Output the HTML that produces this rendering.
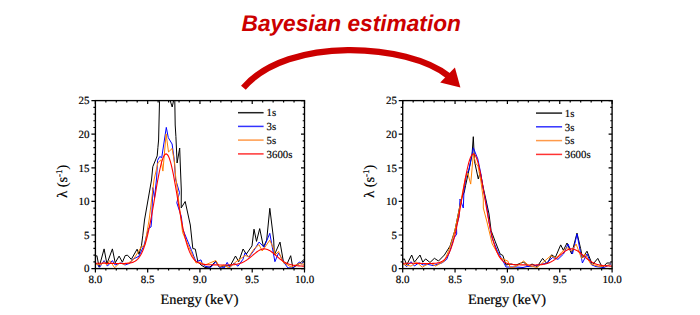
<!DOCTYPE html>
<html><head><meta charset="utf-8"><style>
html,body{margin:0;padding:0;background:#fff;}
text{text-rendering:geometricPrecision;}
body{width:700px;height:315px;overflow:hidden;position:relative;}
svg{position:absolute;left:0;top:0;}
.tl{font-family:"Liberation Serif",serif;font-size:11px;fill:#000;stroke:#000;stroke-width:0.2px;}
.at{font-family:"Liberation Serif",serif;font-size:14.3px;fill:#000;stroke:#000;stroke-width:0.2px;}
.lg{font-family:"Liberation Serif",serif;font-size:10.8px;fill:#000;stroke:#000;stroke-width:0.15px;}
.ti{font-family:"Liberation Sans",sans-serif;font-size:22.7px;font-weight:bold;font-style:italic;fill:#cc0000;}
</style></head><body>
<svg width="700" height="315" viewBox="0 0 700 315">
<text x="241.5" y="30.9" class="ti">Bayesian estimation</text>
<path d="M243.4,87.7 C288.5,35.4 408,43.5 448.5,76" fill="none" stroke="#cc0000" stroke-width="6.3"/>
<polygon points="460.4,87.6 454.9,67.6 440.2,82.4" fill="#cc0000"/>
<clipPath id="cl"><rect x="95.4" y="100.6" width="209.1" height="168.00000000000003"/></clipPath>
<g clip-path="url(#cl)" fill="none" stroke-width="1.0" stroke-linejoin="round">
<path d="M95.0,257.2 L96.9,255.6 L99.1,267.2 L104.1,248.9 L106.9,263.9 L112.4,248.9 L115.2,262.8 L119.1,256.1 L122.4,262.2 L125.2,255.6 L127.5,255.2 L131.3,259.4 L137.1,249.2 L139.0,254.3 L141.5,245.4 L142.8,235.2 L144.5,220.0 L151.5,180.0 L152.8,166.7 L157.2,155.9 L157.9,147.6 L158.6,140.0 L159.5,101.3 L162.0,85.0 L168.0,85.0 L170.3,101.0 L172.2,107.0 L173.5,101.0 L174.2,97.0 L174.8,101.3 L175.2,125.0 L175.9,136.4 L177.1,163.0 L179.7,148.0 L180.3,165.0 L181.3,190.0 L181.2,207.9 L185.2,201.5 L190.3,225.0 L192.8,248.5 L195.3,249.1 L197.9,261.8 L201.0,265.0 L205.0,267.5 L210.0,267.0 L215.8,261.1 L219.0,266.8 L224.0,266.0 L230.4,265.6 L235.5,256.0 L238.7,261.7 L243.1,249.0 L246.3,254.1 L252.0,245.9 L254.0,229.2 L256.5,241.4 L259.7,228.6 L263.5,247.1 L266.7,240.0 L269.8,208.3 L273.7,240.0 L274.3,255.0 L280.0,242.1 L283.6,262.9 L287.0,264.0 L290.7,255.7 L292.9,267.9 L297.0,265.0 L301.4,262.1 L304.0,259.3" stroke="#000"/>
<path d="M95.2,262.2 L99.7,267.2 L104.1,260.6 L107.4,266.1 L112.4,260.6 L115.2,265.0 L121.0,262.8 L125.0,265.0 L129.7,263.3 L132.6,259.4 L139.0,256.2 L144.0,245.4 L148.5,228.3 L151.0,227.0 L151.7,220.0 L152.8,187.6 L154.5,198.0 L156.6,178.0 L157.6,160.3 L159.8,156.5 L161.7,157.8 L166.3,127.4 L168.3,137.7 L172.1,144.0 L174.0,158.0 L174.6,165.0 L175.5,179.0 L179.5,192.6 L176.8,202.8 L181.4,216.7 L182.6,228.8 L191.5,250.4 L196.0,261.8 L201.0,259.9 L202.3,263.7 L205.0,266.2 L210.7,267.5 L215.8,261.7 L219.6,267.5 L222.0,267.0 L224.0,268.0 L227.2,262.4 L229.8,267.5 L234.0,263.0 L238.0,266.2 L243.0,259.2 L245.0,252.9 L248.9,257.3 L254.0,250.3 L259.0,242.1 L264.1,247.1 L269.8,233.3 L274.9,261.7 L278.6,252.9 L283.6,262.0 L287.9,267.9 L292.9,267.9 L299.3,262.1 L301.5,264.0 L304.0,261.0" stroke="#0000ff"/>
<path d="M95.2,263.9 L100.8,265.0 L104.1,261.7 L106.9,265.0 L109.7,260.6 L114.7,267.8 L119.7,262.8 L124.1,264.4 L128.6,262.8 L133.0,260.0 L141.5,246.7 L144.7,245.4 L149.1,220.0 L154.0,180.0 L157.9,162.9 L161.0,159.7 L162.9,171.1 L166.1,133.9 L168.5,152.0 L172.1,148.5 L174.6,163.0 L175.5,175.0 L182.6,232.6 L196.0,263.0 L200.0,262.0 L205.0,265.0 L215.8,260.5 L219.6,266.8 L224.0,265.0 L229.0,268.0 L236.1,261.7 L240.0,259.2 L245.0,255.5 L248.9,256.6 L254.0,249.0 L259.0,244.6 L262.2,251.0 L269.8,240.2 L274.3,250.3 L275.0,255.0 L278.6,251.4 L283.0,262.0 L291.0,267.0 L299.0,263.6 L304.0,264.3" stroke="#ff8000"/>
<path d="M95.4,263.2 L96.4,263.2 L97.4,263.2 L98.4,263.2 L99.4,263.2 L100.4,263.3 L101.4,263.3 L102.4,263.3 L103.4,263.3 L104.4,263.3 L105.4,263.3 L106.4,263.3 L107.4,263.4 L108.4,263.4 L109.4,263.4 L110.4,263.4 L111.4,263.4 L112.4,263.4 L113.4,263.4 L114.4,263.5 L115.4,263.5 L116.4,263.5 L117.4,263.5 L118.4,263.5 L119.4,263.5 L120.4,263.5 L121.4,263.5 L122.4,263.5 L123.4,263.5 L124.4,263.5 L125.4,263.4 L126.4,263.4 L127.4,263.3 L128.4,263.2 L129.4,263.1 L130.4,262.9 L131.4,262.7 L132.4,262.4 L133.4,262.1 L134.4,261.6 L135.4,261.0 L136.4,260.3 L137.4,259.4 L138.4,258.3 L139.4,257.0 L140.4,255.5 L141.4,253.7 L142.4,251.6 L143.4,249.2 L144.4,246.4 L145.4,243.3 L146.4,239.8 L147.4,235.9 L148.4,231.6 L149.4,226.9 L150.4,221.9 L151.4,216.6 L152.4,211.1 L153.4,205.3 L154.4,199.5 L155.4,193.6 L156.4,187.7 L157.4,182.0 L158.4,176.6 L159.4,171.5 L160.4,167.0 L161.4,162.9 L162.4,159.6 L163.4,156.9 L164.4,155.1 L165.4,154.1 L166.4,153.9 L167.4,154.6 L168.4,156.1 L169.4,158.5 L170.4,161.6 L171.4,165.4 L172.4,169.8 L173.4,174.7 L174.4,180.1 L175.4,185.7 L176.4,191.5 L177.4,197.4 L178.4,203.4 L179.4,209.2 L180.4,214.9 L181.4,220.3 L182.4,225.4 L183.4,230.3 L184.4,234.7 L185.4,238.8 L186.4,242.5 L187.4,245.8 L188.4,248.8 L189.4,251.4 L190.4,253.6 L191.4,255.6 L192.4,257.2 L193.4,258.6 L194.4,259.8 L195.4,260.8 L196.4,261.6 L197.4,262.3 L198.4,262.8 L199.4,263.2 L200.4,263.6 L201.4,263.9 L202.4,264.1 L203.4,264.3 L204.4,264.4 L205.4,264.5 L206.4,264.6 L207.4,264.7 L208.4,264.7 L209.4,264.8 L210.4,264.8 L211.4,264.8 L212.4,264.8 L213.4,264.9 L214.4,264.9 L215.4,264.9 L216.4,264.9 L217.4,264.9 L218.4,264.9 L219.4,265.0 L220.4,265.0 L221.4,265.0 L222.4,265.0 L223.4,265.0 L224.4,265.0 L225.4,265.0 L226.4,265.0 L227.4,265.0 L228.4,265.0 L229.4,264.9 L230.4,264.9 L231.4,264.8 L232.4,264.8 L233.4,264.7 L234.4,264.6 L235.4,264.4 L236.4,264.3 L237.4,264.1 L238.4,263.8 L239.4,263.6 L240.4,263.2 L241.4,262.9 L242.4,262.4 L243.4,262.0 L244.4,261.5 L245.4,260.9 L246.4,260.2 L247.4,259.6 L248.4,258.8 L249.4,258.1 L250.4,257.2 L251.4,256.4 L252.4,255.6 L253.4,254.7 L254.4,253.9 L255.4,253.1 L256.4,252.3 L257.4,251.5 L258.4,250.9 L259.4,250.3 L260.4,249.8 L261.4,249.4 L262.4,249.1 L263.4,248.9 L264.4,248.9 L265.4,249.0 L266.4,249.2 L267.4,249.5 L268.4,249.9 L269.4,250.4 L270.4,251.0 L271.4,251.7 L272.4,252.5 L273.4,253.3 L274.4,254.2 L275.4,255.0 L276.4,255.9 L277.4,256.8 L278.4,257.6 L279.4,258.5 L280.4,259.3 L281.4,260.0 L282.4,260.8 L283.4,261.4 L284.4,262.0 L285.4,262.6 L286.4,263.1 L287.4,263.5 L288.4,263.9 L289.4,264.3 L290.4,264.6 L291.4,264.8 L292.4,265.1 L293.4,265.3 L294.4,265.4 L295.4,265.6 L296.4,265.7 L297.4,265.8 L298.4,265.9 L299.4,265.9 L300.4,266.0 L301.4,266.0 L302.4,266.1 L303.4,266.1 L304.4,266.1 L305.4,266.2" stroke="#ff0000" stroke-width="1.1"/>
</g>
<rect x="95.4" y="100.6" width="209.1" height="168.00000000000003" fill="none" stroke="#000" stroke-width="1.35"/>
<path d="M95.40,268.6 v4 M95.40,100.6 v3.5 M105.86,268.6 v2 M105.86,100.6 v1.8 M116.31,268.6 v2 M116.31,100.6 v1.8 M126.77,268.6 v2 M126.77,100.6 v1.8 M137.22,268.6 v2 M137.22,100.6 v1.8 M147.68,268.6 v4 M147.68,100.6 v3.5 M158.13,268.6 v2 M158.13,100.6 v1.8 M168.59,268.6 v2 M168.59,100.6 v1.8 M179.04,268.6 v2 M179.04,100.6 v1.8 M189.50,268.6 v2 M189.50,100.6 v1.8 M199.95,268.6 v4 M199.95,100.6 v3.5 M210.41,268.6 v2 M210.41,100.6 v1.8 M220.86,268.6 v2 M220.86,100.6 v1.8 M231.31,268.6 v2 M231.31,100.6 v1.8 M241.77,268.6 v2 M241.77,100.6 v1.8 M252.22,268.6 v4 M252.22,100.6 v3.5 M262.68,268.6 v2 M262.68,100.6 v1.8 M273.13,268.6 v2 M273.13,100.6 v1.8 M283.59,268.6 v2 M283.59,100.6 v1.8 M294.05,268.6 v2 M294.05,100.6 v1.8 M304.50,268.6 v4 M304.50,100.6 v3.5 M95.4,268.60 h-4 M304.5,268.60 h-3.5 M95.4,261.88 h-2 M304.5,261.88 h-1.8 M95.4,255.16 h-2 M304.5,255.16 h-1.8 M95.4,248.44 h-2 M304.5,248.44 h-1.8 M95.4,241.72 h-2 M304.5,241.72 h-1.8 M95.4,235.00 h-4 M304.5,235.00 h-3.5 M95.4,228.28 h-2 M304.5,228.28 h-1.8 M95.4,221.56 h-2 M304.5,221.56 h-1.8 M95.4,214.84 h-2 M304.5,214.84 h-1.8 M95.4,208.12 h-2 M304.5,208.12 h-1.8 M95.4,201.40 h-4 M304.5,201.40 h-3.5 M95.4,194.68 h-2 M304.5,194.68 h-1.8 M95.4,187.96 h-2 M304.5,187.96 h-1.8 M95.4,181.24 h-2 M304.5,181.24 h-1.8 M95.4,174.52 h-2 M304.5,174.52 h-1.8 M95.4,167.80 h-4 M304.5,167.80 h-3.5 M95.4,161.08 h-2 M304.5,161.08 h-1.8 M95.4,154.36 h-2 M304.5,154.36 h-1.8 M95.4,147.64 h-2 M304.5,147.64 h-1.8 M95.4,140.92 h-2 M304.5,140.92 h-1.8 M95.4,134.20 h-4 M304.5,134.20 h-3.5 M95.4,127.48 h-2 M304.5,127.48 h-1.8 M95.4,120.76 h-2 M304.5,120.76 h-1.8 M95.4,114.04 h-2 M304.5,114.04 h-1.8 M95.4,107.32 h-2 M304.5,107.32 h-1.8 M95.4,100.60 h-4 M304.5,100.60 h-3.5" stroke="#000" stroke-width="1.2" fill="none"/>
<text x="89.60000000000001" y="272.4" text-anchor="end" class="tl">0</text>
<text x="89.60000000000001" y="238.8" text-anchor="end" class="tl">5</text>
<text x="89.60000000000001" y="205.2" text-anchor="end" class="tl">10</text>
<text x="89.60000000000001" y="171.6" text-anchor="end" class="tl">15</text>
<text x="89.60000000000001" y="138.0" text-anchor="end" class="tl">20</text>
<text x="89.60000000000001" y="104.4" text-anchor="end" class="tl">25</text>
<text x="95.4" y="282.8" text-anchor="middle" class="tl">8.0</text>
<text x="147.7" y="282.8" text-anchor="middle" class="tl">8.5</text>
<text x="199.9" y="282.8" text-anchor="middle" class="tl">9.0</text>
<text x="252.2" y="282.8" text-anchor="middle" class="tl">9.5</text>
<text x="304.5" y="282.8" text-anchor="middle" class="tl">10.0</text>
<text x="199.5" y="303.6" text-anchor="middle" class="at">Energy (keV)</text>
<text transform="translate(66.9,181.3) rotate(-90)" text-anchor="middle" class="at">λ (s<tspan dy="-5" font-size="9">-1</tspan><tspan dy="5">)</tspan></text>
<path d="M238,112.7 H263.6" stroke="#222" stroke-width="1.5"/>
<text x="266.6" y="116.4" class="lg">1s</text>
<path d="M238,126.4 H263.6" stroke="#3333ff" stroke-width="1.5"/>
<text x="266.6" y="130.1" class="lg">3s</text>
<path d="M238,140.1 H263.6" stroke="#ff9a4a" stroke-width="1.5"/>
<text x="266.6" y="143.8" class="lg">5s</text>
<path d="M238,153.9 H263.6" stroke="#ff3333" stroke-width="1.5"/>
<text x="266.6" y="157.6" class="lg">3600s</text>
<clipPath id="cr"><rect x="402.7" y="100.6" width="209.40000000000003" height="168.00000000000003"/></clipPath>
<g clip-path="url(#cr)" fill="none" stroke-width="1.0" stroke-linejoin="round">
<path d="M402.3,259.5 L404.4,258.9 L406.7,265.0 L411.7,255.0 L414.4,262.2 L420.0,255.0 L422.8,262.2 L425.6,258.9 L430.0,262.5 L434.4,258.3 L438.5,261.0 L444.4,255.0 L450.0,246.1 L455.0,230.0 L460.0,205.0 L462.0,197.0 L464.3,192.0 L465.6,185.4 L468.5,172.0 L472.0,155.0 L473.3,136.7 L474.5,161.3 L478.3,179.0 L480.2,172.0 L483.3,188.0 L486.0,200.0 L489.0,214.0 L491.1,230.6 L495.0,241.0 L500.2,254.1 L502.8,255.4 L506.0,265.0 L511.0,264.0 L516.0,265.0 L523.6,262.0 L528.1,266.6 L532.0,264.0 L537.2,266.6 L542.6,258.4 L547.1,263.9 L551.7,254.8 L555.3,257.5 L560.7,244.9 L563.4,250.3 L567.0,243.0 L571.6,253.9 L577.0,233.1 L580.6,248.5 L582.5,258.0 L587.0,251.2 L592.4,264.8 L597.8,258.4 L602.3,267.5 L606.9,263.0 L611.0,263.0" stroke="#000"/>
<path d="M402.3,262.5 L406.7,266.7 L411.0,261.7 L414.4,266.0 L419.0,262.8 L423.3,265.0 L428.0,264.4 L433.3,265.6 L442.2,262.8 L446.7,259.4 L450.0,250.6 L454.0,238.0 L456.7,234.0 L456.5,226.0 L459.0,217.0 L460.0,199.0 L463.3,208.0 L464.0,190.0 L466.7,173.3 L468.9,170.0 L473.3,147.8 L477.8,158.9 L480.9,174.0 L483.0,188.0 L486.7,206.0 L489.0,222.0 L492.0,238.0 L497.7,251.6 L504.0,263.0 L506.0,267.0 L511.0,267.0 L516.0,267.0 L523.0,267.5 L527.0,266.5 L532.5,266.6 L537.5,265.0 L542.0,264.0 L546.0,263.5 L552.6,257.5 L558.0,259.3 L563.5,254.0 L568.0,244.0 L572.5,254.0 L577.0,234.0 L582.4,263.0 L587.0,253.9 L591.5,264.8 L596.0,266.6 L604.0,267.5 L611.0,264.0" stroke="#0000ff"/>
<path d="M402.3,264.0 L406.7,265.2 L411.0,266.1 L416.7,262.2 L422.2,267.2 L430.0,262.8 L435.6,266.1 L444.4,261.1 L450.0,247.2 L455.0,230.0 L460.0,206.0 L463.0,190.0 L465.6,176.7 L467.8,173.3 L470.7,184.1 L473.3,154.4 L475.8,163.3 L478.0,166.0 L481.0,182.0 L483.3,199.0 L483.3,208.0 L487.0,222.0 L492.2,243.9 L500.2,258.0 L507.9,261.1 L510.4,268.0 L516.0,266.4 L520.0,263.9 L523.6,261.0 L529.0,265.7 L537.2,267.5 L543.5,262.0 L550.8,255.7 L556.2,258.4 L561.6,252.1 L567.0,247.6 L571.6,251.2 L576.1,244.0 L581.5,258.4 L585.1,253.9 L590.6,263.9 L599.6,266.6 L610.5,264.8" stroke="#ff8000"/>
<path d="M402.7,263.2 L403.7,263.2 L404.7,263.2 L405.7,263.2 L406.7,263.2 L407.7,263.3 L408.7,263.3 L409.7,263.3 L410.7,263.3 L411.7,263.3 L412.7,263.3 L413.7,263.3 L414.7,263.4 L415.7,263.4 L416.7,263.4 L417.7,263.4 L418.7,263.4 L419.7,263.4 L420.7,263.4 L421.7,263.5 L422.7,263.5 L423.7,263.5 L424.7,263.5 L425.7,263.5 L426.7,263.5 L427.7,263.5 L428.7,263.5 L429.7,263.5 L430.7,263.5 L431.7,263.5 L432.7,263.4 L433.7,263.4 L434.7,263.3 L435.7,263.2 L436.7,263.1 L437.7,262.9 L438.7,262.7 L439.7,262.4 L440.7,262.1 L441.7,261.6 L442.7,261.0 L443.7,260.3 L444.7,259.4 L445.7,258.3 L446.7,257.0 L447.7,255.5 L448.7,253.7 L449.7,251.6 L450.7,249.2 L451.7,246.4 L452.7,243.3 L453.7,239.8 L454.7,235.9 L455.7,231.6 L456.7,226.9 L457.7,221.9 L458.7,216.6 L459.7,211.1 L460.7,205.3 L461.7,199.5 L462.7,193.6 L463.7,187.7 L464.7,182.0 L465.7,176.6 L466.7,171.5 L467.7,167.0 L468.7,162.9 L469.7,159.6 L470.7,156.9 L471.7,155.1 L472.7,154.1 L473.7,153.9 L474.7,154.6 L475.7,156.1 L476.7,158.5 L477.7,161.6 L478.7,165.4 L479.7,169.8 L480.7,174.7 L481.7,180.1 L482.7,185.7 L483.7,191.5 L484.7,197.4 L485.7,203.4 L486.7,209.2 L487.7,214.9 L488.7,220.3 L489.7,225.4 L490.7,230.3 L491.7,234.7 L492.7,238.8 L493.7,242.5 L494.7,245.8 L495.7,248.8 L496.7,251.4 L497.7,253.6 L498.7,255.6 L499.7,257.2 L500.7,258.6 L501.7,259.8 L502.7,260.8 L503.7,261.6 L504.7,262.3 L505.7,262.8 L506.7,263.2 L507.7,263.6 L508.7,263.9 L509.7,264.1 L510.7,264.3 L511.7,264.4 L512.7,264.5 L513.7,264.6 L514.7,264.7 L515.7,264.7 L516.7,264.8 L517.7,264.8 L518.7,264.8 L519.7,264.8 L520.7,264.9 L521.7,264.9 L522.7,264.9 L523.7,264.9 L524.7,264.9 L525.7,264.9 L526.7,265.0 L527.7,265.0 L528.7,265.0 L529.7,265.0 L530.7,265.0 L531.7,265.0 L532.7,265.0 L533.7,265.0 L534.7,265.0 L535.7,265.0 L536.7,264.9 L537.7,264.9 L538.7,264.8 L539.7,264.8 L540.7,264.7 L541.7,264.6 L542.7,264.4 L543.7,264.3 L544.7,264.1 L545.7,263.8 L546.7,263.6 L547.7,263.2 L548.7,262.9 L549.7,262.4 L550.7,262.0 L551.7,261.5 L552.7,260.9 L553.7,260.2 L554.7,259.6 L555.7,258.8 L556.7,258.1 L557.7,257.2 L558.7,256.4 L559.7,255.6 L560.7,254.7 L561.7,253.9 L562.7,253.1 L563.7,252.3 L564.7,251.5 L565.7,250.9 L566.7,250.3 L567.7,249.8 L568.7,249.4 L569.7,249.1 L570.7,248.9 L571.7,248.9 L572.7,249.0 L573.7,249.2 L574.7,249.5 L575.7,249.9 L576.7,250.4 L577.7,251.0 L578.7,251.7 L579.7,252.5 L580.7,253.3 L581.7,254.2 L582.7,255.0 L583.7,255.9 L584.7,256.8 L585.7,257.6 L586.7,258.5 L587.7,259.3 L588.7,260.0 L589.7,260.8 L590.7,261.4 L591.7,262.0 L592.7,262.6 L593.7,263.1 L594.7,263.5 L595.7,263.9 L596.7,264.3 L597.7,264.6 L598.7,264.8 L599.7,265.1 L600.7,265.3 L601.7,265.4 L602.7,265.6 L603.7,265.7 L604.7,265.8 L605.7,265.9 L606.7,265.9 L607.7,266.0 L608.7,266.0 L609.7,266.1 L610.7,266.1 L611.7,266.1 L612.7,266.2" stroke="#ff0000" stroke-width="1.1"/>
</g>
<rect x="402.7" y="100.6" width="209.40000000000003" height="168.00000000000003" fill="none" stroke="#000" stroke-width="1.35"/>
<path d="M402.70,268.6 v4 M402.70,100.6 v3.5 M413.17,268.6 v2 M413.17,100.6 v1.8 M423.64,268.6 v2 M423.64,100.6 v1.8 M434.11,268.6 v2 M434.11,100.6 v1.8 M444.58,268.6 v2 M444.58,100.6 v1.8 M455.05,268.6 v4 M455.05,100.6 v3.5 M465.52,268.6 v2 M465.52,100.6 v1.8 M475.99,268.6 v2 M475.99,100.6 v1.8 M486.46,268.6 v2 M486.46,100.6 v1.8 M496.93,268.6 v2 M496.93,100.6 v1.8 M507.40,268.6 v4 M507.40,100.6 v3.5 M517.87,268.6 v2 M517.87,100.6 v1.8 M528.34,268.6 v2 M528.34,100.6 v1.8 M538.81,268.6 v2 M538.81,100.6 v1.8 M549.28,268.6 v2 M549.28,100.6 v1.8 M559.75,268.6 v4 M559.75,100.6 v3.5 M570.22,268.6 v2 M570.22,100.6 v1.8 M580.69,268.6 v2 M580.69,100.6 v1.8 M591.16,268.6 v2 M591.16,100.6 v1.8 M601.63,268.6 v2 M601.63,100.6 v1.8 M612.10,268.6 v4 M612.10,100.6 v3.5 M402.7,268.60 h-4 M612.1,268.60 h-3.5 M402.7,261.88 h-2 M612.1,261.88 h-1.8 M402.7,255.16 h-2 M612.1,255.16 h-1.8 M402.7,248.44 h-2 M612.1,248.44 h-1.8 M402.7,241.72 h-2 M612.1,241.72 h-1.8 M402.7,235.00 h-4 M612.1,235.00 h-3.5 M402.7,228.28 h-2 M612.1,228.28 h-1.8 M402.7,221.56 h-2 M612.1,221.56 h-1.8 M402.7,214.84 h-2 M612.1,214.84 h-1.8 M402.7,208.12 h-2 M612.1,208.12 h-1.8 M402.7,201.40 h-4 M612.1,201.40 h-3.5 M402.7,194.68 h-2 M612.1,194.68 h-1.8 M402.7,187.96 h-2 M612.1,187.96 h-1.8 M402.7,181.24 h-2 M612.1,181.24 h-1.8 M402.7,174.52 h-2 M612.1,174.52 h-1.8 M402.7,167.80 h-4 M612.1,167.80 h-3.5 M402.7,161.08 h-2 M612.1,161.08 h-1.8 M402.7,154.36 h-2 M612.1,154.36 h-1.8 M402.7,147.64 h-2 M612.1,147.64 h-1.8 M402.7,140.92 h-2 M612.1,140.92 h-1.8 M402.7,134.20 h-4 M612.1,134.20 h-3.5 M402.7,127.48 h-2 M612.1,127.48 h-1.8 M402.7,120.76 h-2 M612.1,120.76 h-1.8 M402.7,114.04 h-2 M612.1,114.04 h-1.8 M402.7,107.32 h-2 M612.1,107.32 h-1.8 M402.7,100.60 h-4 M612.1,100.60 h-3.5" stroke="#000" stroke-width="1.2" fill="none"/>
<text x="396.9" y="272.4" text-anchor="end" class="tl">0</text>
<text x="396.9" y="238.8" text-anchor="end" class="tl">5</text>
<text x="396.9" y="205.2" text-anchor="end" class="tl">10</text>
<text x="396.9" y="171.6" text-anchor="end" class="tl">15</text>
<text x="396.9" y="138.0" text-anchor="end" class="tl">20</text>
<text x="396.9" y="104.4" text-anchor="end" class="tl">25</text>
<text x="402.7" y="282.8" text-anchor="middle" class="tl">8.0</text>
<text x="455.1" y="282.8" text-anchor="middle" class="tl">8.5</text>
<text x="507.4" y="282.8" text-anchor="middle" class="tl">9.0</text>
<text x="559.8" y="282.8" text-anchor="middle" class="tl">9.5</text>
<text x="612.1" y="282.8" text-anchor="middle" class="tl">10.0</text>
<text x="507.0" y="303.6" text-anchor="middle" class="at">Energy (keV)</text>
<text transform="translate(374.2,181.3) rotate(-90)" text-anchor="middle" class="at">λ (s<tspan dy="-5" font-size="9">-1</tspan><tspan dy="5">)</tspan></text>
<path d="M536,113.1 H562.1" stroke="#222" stroke-width="1.5"/>
<text x="564.8" y="116.8" class="lg">1s</text>
<path d="M536,126.8 H562.1" stroke="#3333ff" stroke-width="1.5"/>
<text x="564.8" y="130.5" class="lg">3s</text>
<path d="M536,140.6 H562.1" stroke="#ff9a4a" stroke-width="1.5"/>
<text x="564.8" y="144.3" class="lg">5s</text>
<path d="M536,154.4 H562.1" stroke="#ff3333" stroke-width="1.5"/>
<text x="564.8" y="158.1" class="lg">3600s</text>
</svg>
</body></html>
